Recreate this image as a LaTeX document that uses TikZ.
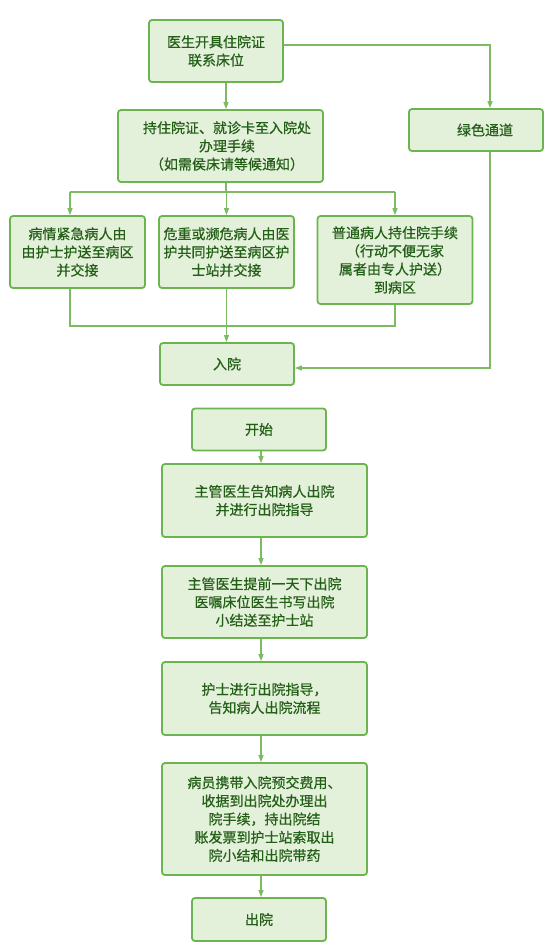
\documentclass[tikz,border=0pt]{standalone}
\usepackage{fontspec}
\setmainfont{Noto Sans CJK SC}[FakeBold=0.6]
\usetikzlibrary{arrows.meta}
\definecolor{boxline}{HTML}{6CB450}
\definecolor{boxfill}{HTML}{E3F1DA}
\definecolor{txt}{HTML}{245F18}
\definecolor{conn}{HTML}{7CBB62}
\begin{document}
\begin{tikzpicture}[x=1pt,y=-1pt,
  box/.style={draw=boxline,fill=boxfill,line width=1.8pt,rounded corners=3pt,
    align=center,text=txt,inner sep=0pt,
    font=\fontsize{14}{18.2}\selectfont},
  conline/.style={draw=conn,line width=1.2pt},
  arr/.style={conline,-{Triangle[length=7pt,width=5pt]}}]
\useasboundingbox (0,0) rectangle (551,948);
% admission part
\node[box,minimum width=134pt,minimum height=62pt] (A) at (216,51) {医生开具住院证\\联系床位};
\node[box,minimum width=205pt,minimum height=72pt] (B) at (220.5,146) {\hspace*{13pt}持住院证、就诊卡至入院处\\\hspace*{13pt}办理手续\\\hspace*{13pt}（如需侯床请等候通知）};
\node[box,minimum width=134pt,minimum height=42pt] (G) at (476,130) {\hspace*{18pt}绿色通道};
\node[box,minimum width=135pt,minimum height=72pt] (C1) at (77.5,252) {病情紧急病人由\\由护士护送至病区\\并交接};
\node[box,minimum width=135pt,minimum height=72pt] (C2) at (226.5,252) {危重或濒危病人由医\\护共同护送至病区护\\士站并交接};
\node[box,minimum width=155pt,minimum height=88pt] (C3) at (395,260) {普通病人持住院手续\\（行动不便无家\\属者由专人护送）\\到病区};
\node[box,minimum width=134pt,minimum height=42pt] (R) at (227,364) {入院};
\coordinate (ab) at (226,0);
\coordinate (jl) at (70,192);
\coordinate (jm) at (226.5,192);
\coordinate (jr) at (395,192);
\coordinate (kl) at (70,326);
\coordinate (kr) at (395,326);
\draw[arr] (A.south -| ab) -- (B.north -| ab);
\draw[arr] ([yshift=6pt]A.east) -| ([xshift=14pt]G.north);
\draw[conline] (B.south -| ab) -- (ab |- jm);
\draw[conline] (jl) -- (jr);
\draw[arr] (jl) -- (jl |- C1.north);
\draw[arr] (jm) -- (C2.north);
\draw[arr] (jr) -- (C3.north);
\draw[conline] (kl |- C1.south) -- (kl) -- (kr) -- (kr |- C3.south);
\draw[arr] (C2.south) -- (C2.south |- R.north);
\draw[arr] ([xshift=14pt]G.south) |- ([yshift=-4pt]R.east);
% discharge part
\node[box,minimum width=134pt,minimum height=42pt] (S) at (259,429.5) {开始};
\node[box,minimum width=205pt,minimum height=73pt] (D1) at (264.5,500.5) {主管医生告知病人出院\\并进行出院指导};
\node[box,minimum width=205pt,minimum height=72pt] (D2) at (264.5,602) {主管医生提前一天下出院\\医嘱床位医生书写出院\\小结送至护士站};
\node[box,minimum width=205pt,minimum height=73pt] (D3) at (264.5,698.5) {护士进行出院指导，\\告知病人出院流程};
\node[box,minimum width=205pt,minimum height=112pt] (D4) at (264.5,819) {病员携带入院预交费用、\\收据到出院处办理出\\院手续，持出院结\\账发票到护士站索取出\\院小结和出院带药};
\node[box,minimum width=134pt,minimum height=43pt] (E) at (259,919.5) {出院};
\coordinate (ax) at (261,0);
\draw[arr] (S.south -| ax) -- (D1.north -| ax);
\draw[arr] (D1.south -| ax) -- (D2.north -| ax);
\draw[arr] (D2.south -| ax) -- (D3.north -| ax);
\draw[arr] (D3.south -| ax) -- (D4.north -| ax);
\draw[arr] (D4.south -| ax) -- (E.north -| ax);
\end{tikzpicture}
\end{document}
